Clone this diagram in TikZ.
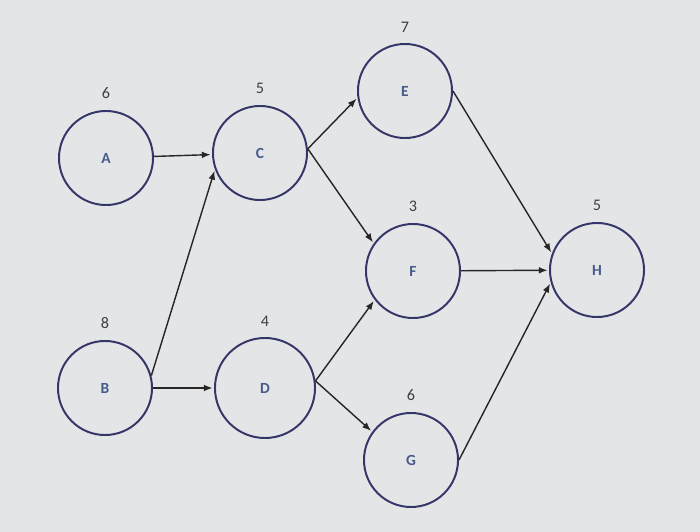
\documentclass[tikz,border=0pt]{standalone}
\usepackage{fontspec}
\setmainfont{Carlito}
\usetikzlibrary{arrows.meta}
\definecolor{NetNavy}{RGB}{52,54,104}
\definecolor{NetLetter}{RGB}{72,92,140}
\definecolor{NetGray}{RGB}{62,62,66}
\definecolor{NetPaper}{RGB}{227,229,231}
\begin{document}
\begin{tikzpicture}[
  x=0.025cm, y=-0.025cm,
  task/.style={circle, draw=NetNavy, line width=1.4pt, inner sep=0pt,
    minimum size=2.35cm, text=NetLetter, font=\fontsize{11}{13}\selectfont\bfseries,
    label={[text=NetGray, font=\fontsize{11.5}{13}\selectfont, label distance=1.5mm]above:#1}},
  arrow/.style={-{Latex[length=2.2mm, width=1.7mm]}, line width=1pt, draw=black!85, shorten >=1pt}
]
\fill[NetPaper] (0,0) rectangle (700,532);
\useasboundingbox (0,0) rectangle (700,532);
\node[task=6] (A) at (106,158) {A};
\node[task=5] (C) at (260,153) {C};
\node[task=7] (E) at (405,91) {E};
\node[task=3] (F) at (413,271) {F};
\node[task=5] (H) at (597,270) {H};
\node[task=8] (B) at (105,388) {B};
\node[task=4, minimum size=2.5cm] (D) at (265,388) {D};
\node[task=6] (G) at (411,460) {G};
\draw[arrow] (A) -- (C);
\draw[arrow] (B.15) -- (C.200);
\draw[arrow] (B) -- (D);
\draw[arrow] (C.5) -- (E.188);
\draw[arrow] (C.5) -- (F.145);
\draw[arrow] (D.8) -- (F.217);
\draw[arrow] (D.8) -- (G.144);
\draw[arrow] (E.0) -- (H.160);
\draw[arrow] (F) -- (H);
\draw[arrow] (G.0) -- (H.195);
\end{tikzpicture}
\end{document}
